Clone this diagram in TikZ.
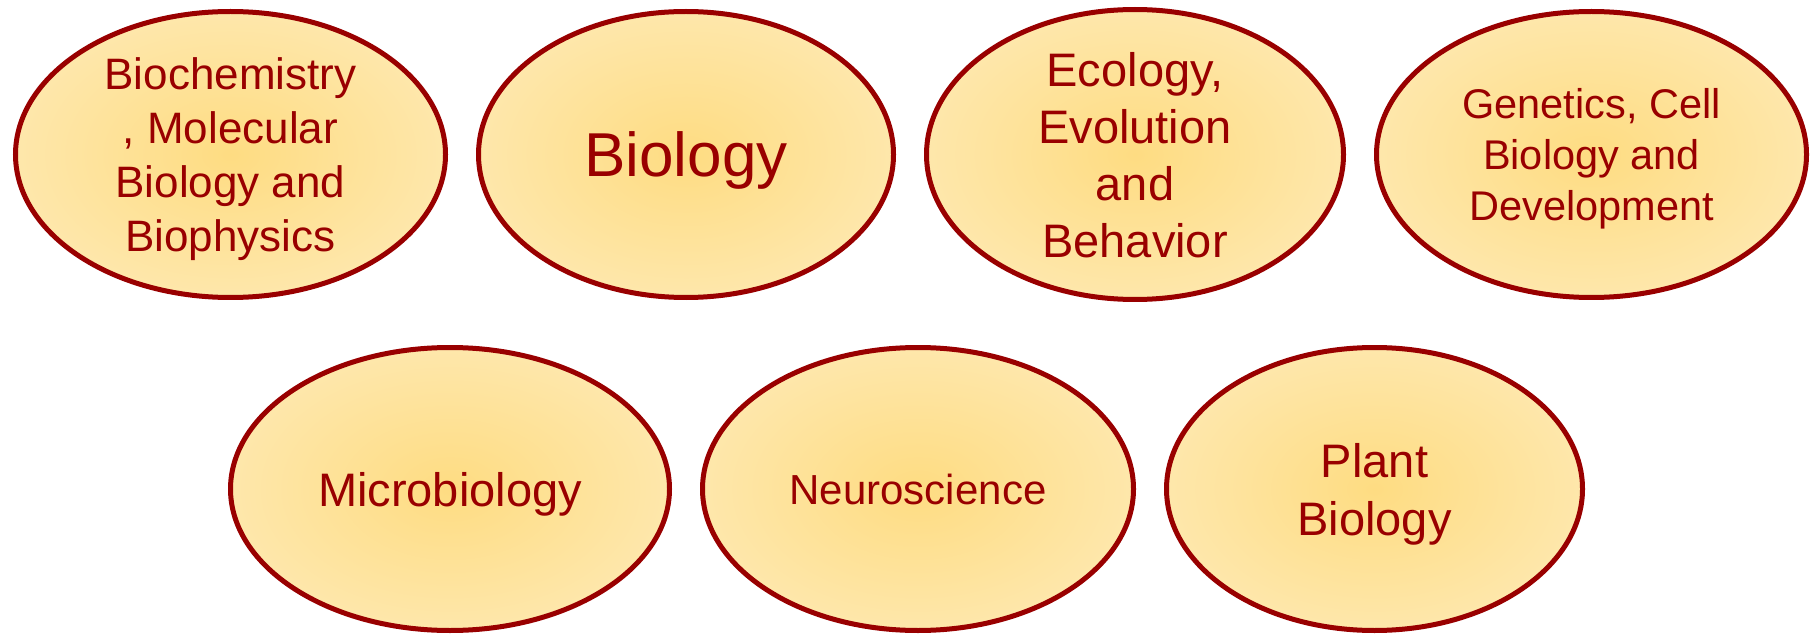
\documentclass[tikz,border=0pt]{standalone}
\usepackage{fontspec}
\setmainfont{Liberation Sans}
\usetikzlibrary{shapes.geometric,positioning}
\definecolor{rimred}{RGB}{153,0,0}
\definecolor{glowmid}{RGB}{254,220,130}
\definecolor{glowrim}{RGB}{255,242,212}
\pgfdeclareradialshading{cellglow}{\pgfpoint{0bp}{0bp}}{color(0bp)=(glowmid); color(50bp)=(glowrim); color(72bp)=(glowrim)}
\tikzset{
  fieldcell/.style={ellipse,draw=rimred,line width=5pt,shading=cellglow,text=rimred,align=center,inner sep=0pt,minimum height=286pt},
  lowcell/.style={fieldcell,minimum height=283pt}
}

\begin{document}
\begin{tikzpicture}[x=1pt,y=-1pt,node distance=45pt and 28pt]
  \useasboundingbox (0,0) rectangle (1812,636);
  % upper row
  \node[fieldcell,minimum width=430pt,font=\fontsize{44}{54}\selectfont,text depth=-4pt] (biochem) at (230.5,154.5) {Biochemistry\\, Molecular\\Biology and\\Biophysics};
  \node[fieldcell,minimum width=415pt,font=\fontsize{62}{70}\selectfont,text depth=-6pt,right=of biochem] (biology) {Biology};
  \node[fieldcell,minimum width=417pt,font=\fontsize{47}{57}\selectfont,text depth=-6pt,right=of biology] (ecology) {Ecology,\\Evolution\\and\\Behavior};
  \node[fieldcell,minimum width=430pt,font=\fontsize{41.5}{51}\selectfont,text depth=-3pt,right=of ecology] (genetics) {Genetics, Cell\\Biology and\\Development};
  % lower row
  \node[lowcell,minimum width=439pt,font=\fontsize{47}{57}\selectfont,text depth=-5pt] (micro) at (450,489) {Microbiology};
  \node[lowcell,minimum width=431pt,font=\fontsize{42}{52}\selectfont,text depth=-13pt,right=of micro] (neuro) {Neuroscience};
  \node[lowcell,minimum width=416pt,font=\fontsize{47}{58}\selectfont,text depth=-5pt,right=of neuro] (plant) {Plant\\Biology};
\end{tikzpicture}
\end{document}
